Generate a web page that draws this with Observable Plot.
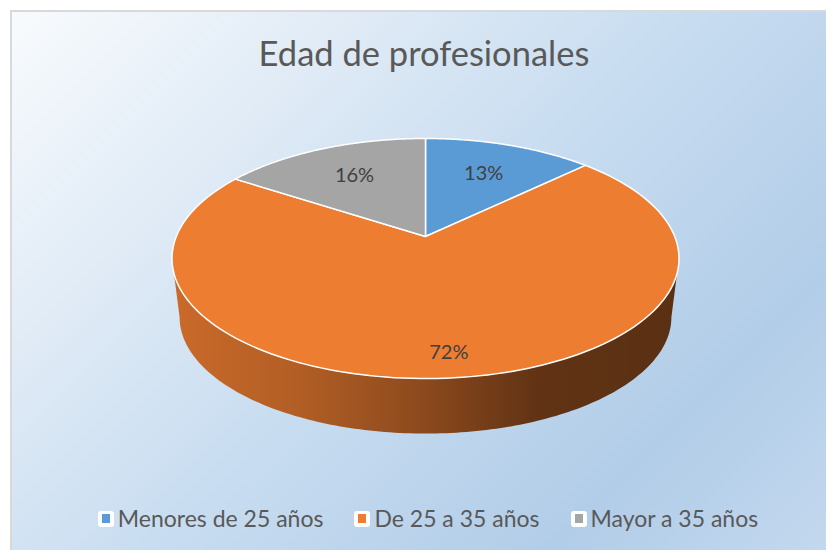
<!DOCTYPE html>
<html><head><meta charset="utf-8">
<script src="https://cdn.jsdelivr.net/npm/d3@7"></script>
<script src="https://cdn.jsdelivr.net/npm/@observablehq/plot@0.6"></script>
<style>
html,body{margin:0;padding:0;background:#fff;}
#page{position:relative;width:826px;height:550px;overflow:hidden;background:#fff;font-family:Lato,"Open Sans",sans-serif;}
#frame{position:absolute;left:10px;top:10px;width:832px;height:548px;border-top:2px solid #d9d9d9;border-left:2px solid #d9d9d9;background:linear-gradient(135deg,#f8fbfd 0%,#e0ebf6 25%,#c7dcf0 50%,#b2cde8 78%,#c4d9ef 100%);}
#title{position:absolute;left:0;width:848px;top:36px;text-align:center;font-size:34.5px;line-height:34px;color:#595959;white-space:nowrap;}
#plot{position:absolute;left:0;top:0;}
#legend{position:absolute;left:0;width:856px;top:507px;display:flex;justify-content:center;gap:31px;font-size:23px;line-height:23px;color:#595959;white-space:nowrap;}
.item{display:flex;align-items:center;}
.sw{width:16px;height:16px;background:#fff;border-radius:3px;display:flex;align-items:center;justify-content:center;margin-right:4px;}
.sw i{display:block;width:8px;height:9px;}
</style>
</head><body>
<div id="page">
  <div id="frame"></div>
  <div id="plot"></div>
  <div id="title">Edad de profesionales</div>
  <div id="legend"></div>
</div>
<script>
const categories = ["Menores de 25 años", "De 25 a 35 años", "Mayor a 35 años"];
const percents = [13, 72, 16];
const colors = ["#5b9bd5", "#ed7d31", "#a5a5a5"];

// 3D pie projection (layout constants)
const CX = 425, CY = 236, A = 249.2, B = 116, P = 0.1834;
const BOTTOM_CY = 295.3, BOTTOM_S = 0.97, N = 160;
function proj(theta, r, face) {
  const X = r * Math.sin(theta), Z = r * Math.cos(theta), w = 1 + P * Z;
  const s = face === "bottom" ? BOTTOM_S : 1;
  const cy = face === "bottom" ? BOTTOM_CY : CY;
  return {x: CX + s * A * X / w, y: cy - s * B * Z / w};
}

const total = d3.sum(percents);
let acc = 0;
const slices = categories.map((cat, i) => {
  const a0 = acc / total * 2 * Math.PI;
  acc += percents[i];
  const a1 = acc / total * 2 * Math.PI;
  return {i, cat, a0, a1, pct: percents[i], share: percents[i] / total};
});

// top faces
const topPts = [];
for (const s of slices) {
  const apex = proj(0, 0, "top");
  topPts.push({id: s.i, cat: s.cat, x: apex.x, y: apex.y});
  for (let k = 0; k <= N; k++) {
    const t = s.a0 + (s.a1 - s.a0) * k / N;
    const p = proj(t, 1, "top");
    topPts.push({id: s.i, cat: s.cat, x: p.x, y: p.y});
  }
}

// visible front side
const F0 = Math.acos(-P), F1 = 2 * Math.PI - Math.acos(-P);
const sides = [];
for (const s of slices) {
  const lo = Math.max(s.a0, F0), hi = Math.min(s.a1, F1);
  if (lo >= hi) continue;
  const pts = [];
  for (let k = 0; k <= N; k++) { const t = lo + (hi - lo) * k / N; pts.push(proj(t, 1, "top")); }
  for (let k = N; k >= 0; k--) { const t = lo + (hi - lo) * k / N; pts.push(proj(t, 1, "bottom")); }
  sides.push({i: s.i, pts});
}

// labels
const labels = slices.map(s => {
  const mid = (s.a0 + s.a1) / 2;
  const r = s.share > 0.5 ? 0.85 : 0.66;
  const p = proj(mid, r, "top");
  return {x: p.x, y: p.y, t: s.pct + "%"};
});

const chart = Plot.plot({
  width: 826, height: 550, margin: 0,
  x: {domain: [0, 826], range: [0, 826], axis: null},
  y: {domain: [0, 550], range: [0, 550], axis: null},
  color: {domain: categories, range: colors},
  style: {background: "transparent", overflow: "visible", fontFamily: "Lato, 'Open Sans', sans-serif"},
  marks: [
    ...sides.map(s => Plot.line(s.pts, {x: "x", y: "y", fill: `url(#side${s.i})`, stroke: "none", curve: "linear-closed"})),
    Plot.line(topPts, {x: "x", y: "y", z: "id", fill: "cat", stroke: "#ffffff", strokeWidth: 1.5, curve: "linear-closed"}),
    Plot.text(labels, {x: "x", y: "y", text: "t", fill: "#404040", fontSize: 20})
  ]
});

const defs = d3.select(chart).insert("defs", ":first-child");
const stopsK = [[0, 0.45], [0.25, 0.8], [0.5, 1.5], [0.72, 2.5], [1, 2.7]];
slices.forEach(s => {
  const g = defs.append("linearGradient").attr("id", `side${s.i}`)
    .attr("gradientUnits", "userSpaceOnUse")
    .attr("x1", CX - A * 1.02).attr("x2", CX + A * 1.02).attr("y1", 0).attr("y2", 0);
  for (const [o, k] of stopsK) g.append("stop").attr("offset", o).attr("stop-color", d3.rgb(colors[s.i]).darker(k).formatHex());
});
document.getElementById("plot").appendChild(chart);

const legend = d3.select("#legend");
categories.forEach((c, i) => {
  const it = legend.append("div").attr("class", "item");
  it.append("span").attr("class", "sw").append("i").style("background", colors[i]);
  it.append("span").text(c);
});
</script>
</body></html>
